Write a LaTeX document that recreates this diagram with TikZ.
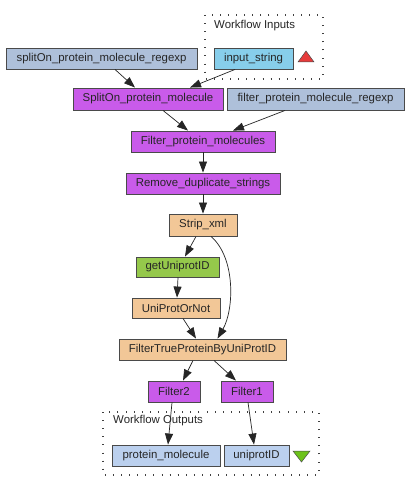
\documentclass[tikz,border=0pt]{standalone}
\usepackage{fontspec}
\setmainfont{Liberation Sans}
\usetikzlibrary{arrows.meta}
\definecolor{constc}{HTML}{AEC0DA}
\definecolor{inc}{HTML}{87CEEB}
\definecolor{outc}{HTML}{BBD0EE}
\definecolor{localc}{HTML}{C95BEA}
\definecolor{beanc}{HTML}{F2C797}
\definecolor{wsdlc}{HTML}{95C84B}
\definecolor{bordc}{HTML}{4A4A4A}
\definecolor{redtri}{HTML}{E63B3B}
\definecolor{greentri}{HTML}{6CC21A}
\tikzset{
  x=1pt,y=-1pt,
  box/.style={draw=bordc,line width=0.9pt,minimum height=21pt,inner sep=0pt,
    font=\fontsize{11.4}{13}\selectfont,text=black!85},
  const/.style={box,fill=constc},
  inport/.style={box,fill=inc},
  outport/.style={box,fill=outc},
  local/.style={box,fill=localc},
  bean/.style={box,fill=beanc},
  wsdl/.style={box,fill=wsdlc},
  group/.style={draw=black!75,line width=1.1pt,dash pattern=on 0.9pt off 7.2pt},
  edge/.style={draw=black!85,line width=0.7pt,-{Triangle[length=11pt,width=8pt]}},
  lbl/.style={font=\fontsize{11.4}{13}\selectfont,text=black!85,inner sep=0pt,anchor=west}
}
\begin{document}
\begin{tikzpicture}
\useasboundingbox[fill=white] (0,0) rectangle (409,500);
% groups
\draw[group] (205,15) rectangle (323,79);
\node[lbl] (inlbl) at (214,26) {Workflow Inputs};
\draw[group] (103,412) rectangle (319,475);
\node[lbl] (outlbl) at (113,421) {Workflow Outputs};
% nodes
\node[const,minimum width=191pt] (sreg) at (101.5,58.5) {splitOn\_protein\_molecule\_regexp};
\node[inport,minimum width=79pt] (instr) at (253.5,58.5) {input\_string};
\node[local,minimum width=150pt,minimum height=22pt] (split) at (148,99) {SplitOn\_protein\_molecule};
\node[const,minimum width=177pt,minimum height=22pt] (freg) at (315.5,99) {filter\_protein\_molecule\_regexp};
\node[local,minimum width=144pt] (fpm) at (203,141.5) {Filter\_protein\_molecules};
\node[local,minimum width=154pt] (remove) at (203,183.5) {Remove\_duplicate\_strings};
\node[bean,minimum width=68pt,minimum height=22pt] (strip) at (203,225) {Strip\_xml};
\node[wsdl,minimum width=83pt,minimum height=20pt] (getu) at (177.5,267) {getUniprotID};
\node[bean,minimum width=88pt,minimum height=20pt] (unip) at (176,308) {UniProtOrNot};
\node[bean,minimum width=167pt] (ftp) at (202.5,349.5) {FilterTrueProteinByUniProtID};
\node[local,minimum width=52pt] (f2) at (174,391.5) {Filter2};
\node[local,minimum width=52pt] (f1) at (247,391.5) {Filter1};
\node[outport,minimum width=108pt] (pm) at (166,455.5) {protein\_molecule};
\node[outport,minimum width=65pt] (uid) at (256.5,455.5) {uniprotID};
% triangles
\draw[draw=black!70,line width=0.5pt,fill=redtri] (298,62) -- (314,62) -- (306,51) -- cycle;
\draw[draw=black!70,line width=0.5pt,fill=greentri] (293,451) -- (310,451) -- (301.5,462) -- cycle;
% edges
\draw[edge] ([xshift=13.5pt]sreg.south) -- ([xshift=-13pt]split.north);
\draw[edge] ([xshift=-18.5pt]instr.south) -- ([xshift=42pt]split.north);
\draw[edge] ([xshift=15pt]split.south) -- ([xshift=-15pt]fpm.north);
\draw[edge] ([xshift=-30.5pt]freg.south) -- ([xshift=30pt]fpm.north);
\draw[edge] (fpm.south) -- (remove.north);
\draw[edge] (remove.south) -- (strip.north);
\draw[edge] ([xshift=-7pt]strip.south) -- ([xshift=7.5pt]getu.north);
\draw[edge] ([xshift=8pt]strip.south) .. controls (236,258) and (234,310) .. ([xshift=15pt]ftp.north);
\draw[edge] ([xshift=0.5pt]getu.south) -- ([xshift=1pt]unip.north);
\draw[edge] ([xshift=7pt]unip.south) -- ([xshift=-6.5pt]ftp.north);
\draw[edge] ([xshift=-9.5pt]ftp.south) -- ([xshift=9pt]f2.north);
\draw[edge] ([xshift=11.5pt]ftp.south) -- ([xshift=-11pt]f1.north);
\draw[edge] ([xshift=-2pt]f2.south) -- ([xshift=2pt]pm.north);
\draw[edge] ([xshift=1pt]f1.south) -- ([xshift=-2.5pt]uid.north);
\end{tikzpicture}
\end{document}
